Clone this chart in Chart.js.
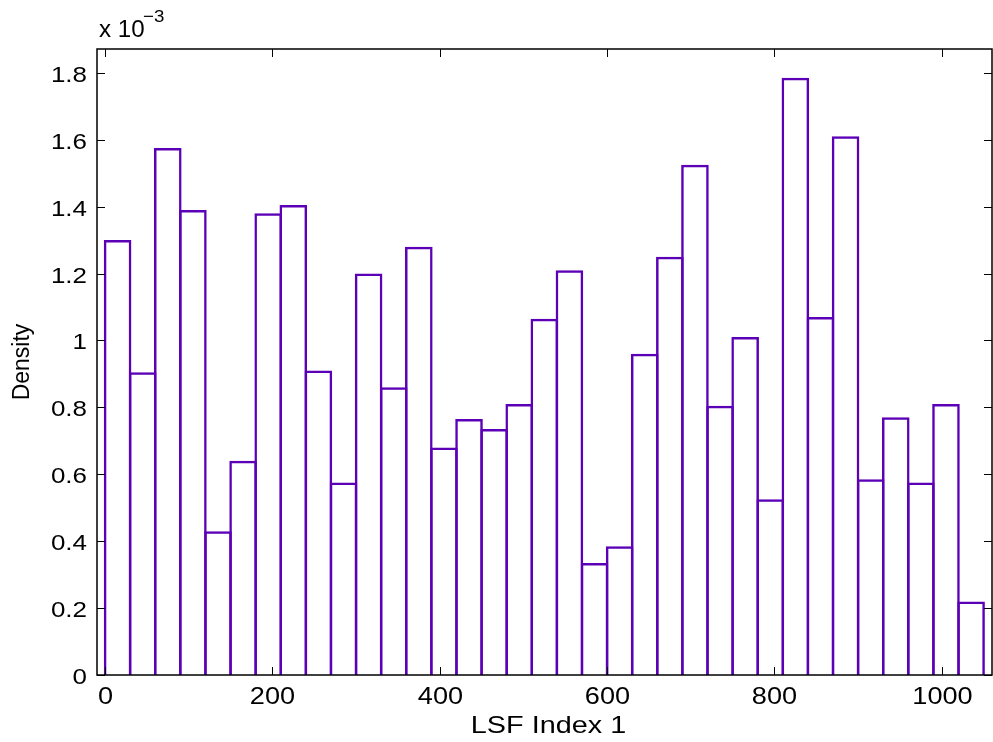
<!DOCTYPE html>
<html>
<head>
<meta charset="utf-8">
<script src="https://cdn.jsdelivr.net/npm/chart.js@4/dist/chart.umd.min.js"></script>
<style>
  html, body { margin: 0; padding: 0; background: #fff; }
  #wrap { width: 993px; height: 742px; }
</style>
</head>
<body>
<div id="wrap"><canvas id="hist"></canvas></div>
<script>
// bin centres (LSF index) and densities (x 10^-3)
var binCenters = [15, 45, 75, 105, 135, 165, 195, 225, 255, 285, 315, 345, 375, 405, 435,
                  465, 495, 525, 555, 585, 615, 645, 675, 705, 735, 765, 795, 825, 855, 885,
                  915, 945, 975, 1005, 1035];
var density = [1.30, 0.905, 1.575, 1.39, 0.43, 0.64, 1.38, 1.405, 0.91, 0.575, 1.20, 0.86, 1.28, 0.68, 0.765,
               0.735, 0.81, 1.065, 1.21, 0.335, 0.385, 0.96, 1.25, 1.525, 0.805, 1.01, 0.525, 1.785, 1.07, 1.61,
               0.585, 0.77, 0.575, 0.81, 0.22];
var xTicks = [0, 200, 400, 600, 800, 1000];
var yTicks = [0, 0.2, 0.4, 0.6, 0.8, 1, 1.2, 1.4, 1.6, 1.8];
var xTitle = 'LSF Index 1';
var yTitle = 'Density';

var font = 'Liberation Sans, Arial, sans-serif';
var stretch = 1.18;   // the matlab export is a bit wider than tall

function wideText(ctx, txt, x, y, align, size, sx) {
    ctx.save();
    ctx.font = size + 'px ' + font;
    ctx.textAlign = align;
    ctx.textBaseline = 'alphabetic';
    ctx.translate(x, y);
    ctx.scale(sx, 1);
    ctx.fillText(txt, 0, 0);
    ctx.restore();
}

// matlab style box, inward ticks, labels and the exponent
var boxPlugin = {
    id: 'box',
    afterDraw: function(chart) {
        var ctx = chart.ctx;
        var a = chart.chartArea;
        var xs = chart.scales.x, ys = chart.scales.y;
        ctx.save();
        ctx.strokeStyle = '#000';
        ctx.fillStyle = '#000';
        ctx.lineWidth = 1;
        xTicks.forEach(function(v) {
            var px = Math.round(xs.getPixelForValue(v)) + 0.5;
            ctx.beginPath();
            ctx.moveTo(px, a.bottom); ctx.lineTo(px, a.bottom - 8);
            ctx.moveTo(px, a.top); ctx.lineTo(px, a.top + 8);
            ctx.stroke();
            wideText(ctx, String(v), px, a.bottom + 29, 'center', 23, stretch);
        });
        yTicks.forEach(function(v) {
            var py = Math.round(ys.getPixelForValue(v)) + 0.5;
            ctx.beginPath();
            ctx.moveTo(a.left, py); ctx.lineTo(a.left + 8, py);
            ctx.moveTo(a.right, py); ctx.lineTo(a.right - 8, py);
            ctx.stroke();
            wideText(ctx, String(v), a.left - 10, py + 8.5, 'right', 22, stretch);
        });
        ctx.lineWidth = 1.5;
        ctx.strokeRect(a.left, a.top, a.right - a.left, a.bottom - a.top);

        wideText(ctx, xTitle, (a.left + a.right) / 2 + 4, 733, 'center', 24, 1.2);

        ctx.save();
        ctx.translate(29, (a.top + a.bottom) / 2);
        ctx.rotate(-Math.PI / 2);
        ctx.font = '23px ' + font;
        ctx.textAlign = 'center';
        ctx.textBaseline = 'alphabetic';
        ctx.fillText(yTitle, 0, 0);
        ctx.restore();

        wideText(ctx, 'x 10', a.left + 2, a.top - 12, 'left', 23, 1.05);
        wideText(ctx, '\u22123', a.left + 46, a.top - 27, 'left', 17, 1.1);
        ctx.restore();
    }
};

var ctx = document.getElementById('hist');
var chart = new Chart(ctx, {
    type: 'bar',
    data: {
        datasets: [{
            data: binCenters.map(function(c, i) { return {x: c, y: density[i]}; }),
            backgroundColor: 'rgba(255,255,255,0)',
            borderColor: '#5c00b8',
            borderWidth: 2.5,
            barPercentage: 1.1,
            categoryPercentage: 1
        }]
    },
    options: {
        responsive: true,
        maintainAspectRatio: false,
        animation: false,
        layout: {padding: {top: 49, right: 1, left: 0, bottom: 0}},
        plugins: {legend: {display: false}, tooltip: {enabled: false}},
        scales: {
            x: {
                type: 'linear',
                min: -9.6,
                max: 1060,
                offset: false,
                grid: {display: false, drawTicks: false},
                border: {display: false},
                afterFit: function(s) { s.height = 67; },
                ticks: {display: false}
            },
            y: {
                min: 0,
                max: 1.871,
                grid: {display: false, drawTicks: false},
                border: {display: false},
                afterFit: function(s) { s.width = 97; },
                ticks: {display: false}
            }
        }
    },
    plugins: [boxPlugin]
});
</script>
</body>
</html>
